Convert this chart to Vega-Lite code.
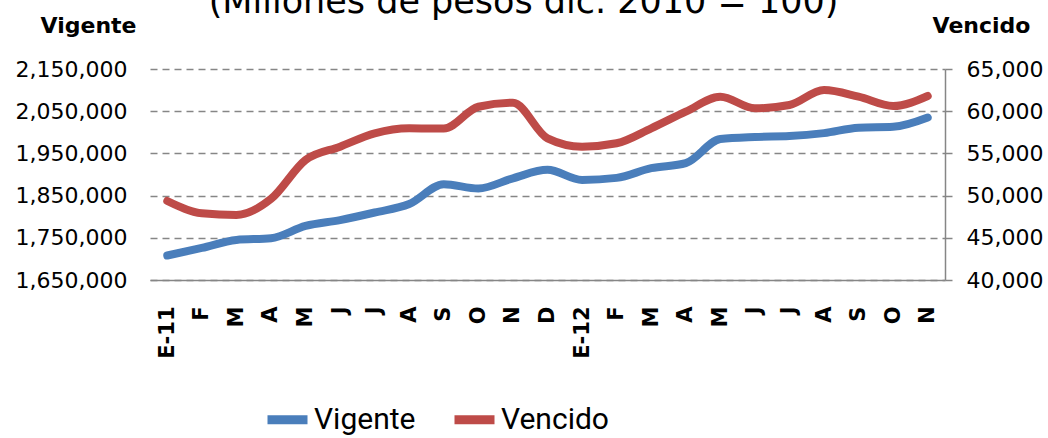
{
  "$schema": "https://vega.github.io/schema/vega-lite/v6.json",
  "width": 795,
  "height": 211,
  "autosize": {"type": "none"},
  "padding": {"left": 150, "top": 69, "right": 103, "bottom": 158},
  "background": "white",
  "title": {
    "text": "(Millones de pesos dic. 2010 = 100)",
    "font": "DejaVu Sans",
    "fontSize": 35,
    "fontWeight": "normal",
    "color": "black",
    "anchor": "middle",
    "frame": "group",
    "baseline": "alphabetic",
    "offset": 0,
    "dx": -24,
    "dy": 34
  },
  "data": {
    "values": [
      {"mes": "2011-01", "vigente": 1708000, "vencido": 49360},
      {"mes": "2011-02", "vigente": 1726000, "vencido": 47900},
      {"mes": "2011-03", "vigente": 1745000, "vencido": 47700},
      {"mes": "2011-04", "vigente": 1749000, "vencido": 49600},
      {"mes": "2011-05", "vigente": 1778000, "vencido": 54220},
      {"mes": "2011-06", "vigente": 1792000, "vencido": 55800},
      {"mes": "2011-07", "vigente": 1810000, "vencido": 57380},
      {"mes": "2011-08", "vigente": 1830000, "vencido": 57970},
      {"mes": "2011-09", "vigente": 1877000, "vencido": 57950},
      {"mes": "2011-10", "vigente": 1867000, "vencido": 60530},
      {"mes": "2011-11", "vigente": 1891000, "vencido": 61000},
      {"mes": "2011-12", "vigente": 1911000, "vencido": 56790},
      {"mes": "2012-01", "vigente": 1887000, "vencido": 55800},
      {"mes": "2012-02", "vigente": 1892000, "vencido": 56200},
      {"mes": "2012-03", "vigente": 1915000, "vencido": 57970},
      {"mes": "2012-04", "vigente": 1927000, "vencido": 59940},
      {"mes": "2012-05", "vigente": 1984000, "vencido": 61720},
      {"mes": "2012-06", "vigente": 1989000, "vencido": 60340},
      {"mes": "2012-07", "vigente": 1991000, "vencido": 60730},
      {"mes": "2012-08", "vigente": 1998000, "vencido": 62510},
      {"mes": "2012-09", "vigente": 2011000, "vencido": 61720},
      {"mes": "2012-10", "vigente": 2013000, "vencido": 60610},
      {"mes": "2012-11", "vigente": 2035000, "vencido": 61800}
    ]
  },
  "encoding": {
    "x": {
      "field": "mes",
      "type": "ordinal",
      "scale": {"type": "point", "padding": 0.5},
      "axis": {
        "title": null,
        "labelAngle": -90,
        "labelAlign": "right",
        "labelBaseline": "middle",
        "labelFont": "DejaVu Sans",
        "labelFontWeight": "bold",
        "labelFontSize": 21,
        "labelColor": "black",
        "labelPadding": 26,
        "ticks": false,
        "domainColor": "#868686",
        "domainWidth": 1.5,
        "grid": false,
        "labelExpr": "substring(datum.value,5,7)=='01' ? 'E-'+substring(datum.value,2,4) : ['E','F','M','A','M','J','J','A','S','O','N','D'][toNumber(substring(datum.value,5,7))-1]"
      }
    }
  },
  "layer": [
    {
      "mark": {"type": "line", "strokeWidth": 8, "interpolate": "monotone", "strokeCap": "round"},
      "encoding": {
        "y": {
          "field": "vigente",
          "type": "quantitative",
          "scale": {"domain": [1650000, 2150000], "nice": false, "zero": false},
          "axis": {
            "values": [1650000, 1750000, 1850000, 1950000, 2050000, 2150000],
            "format": ",d",
            "title": "Vigente",
            "titleAngle": 0,
            "titleFont": "DejaVu Sans",
            "titleFontSize": 22,
            "titleFontWeight": "bold",
            "titleColor": "black",
            "titleAlign": "center",
            "titleBaseline": "middle",
            "titleX": -62,
            "titleY": -44,
            "labelFont": "DejaVu Sans",
            "labelFontSize": 22,
            "labelColor": "black",
            "labelPadding": 23,
            "ticks": false,
            "domain": false,
            "grid": true,
            "gridColor": "#868686",
            "gridDash": [7, 5],
            "gridWidth": 1.5
          }
        },
        "color": {
          "datum": "Vigente",
          "type": "nominal",
          "scale": {"domain": ["Vigente", "Vencido"], "range": ["#4a7ebb", "#be4b48"]},
          "legend": {
            "title": null,
            "orient": "none",
            "direction": "horizontal",
            "legendX": 113,
            "legendY": 326,
            "symbolType": "stroke",
            "symbolSize": 1600,
            "symbolStrokeWidth": 9,
            "labelFont": "Roboto",
            "labelFontSize": 30,
            "labelColor": "black",
            "labelOffset": 2,
            "columnPadding": 20,
            "labelLimit": 300
          }
        }
      }
    },
    {
      "mark": {"type": "line", "strokeWidth": 8, "interpolate": "monotone", "strokeCap": "round"},
      "encoding": {
        "y": {
          "field": "vencido",
          "type": "quantitative",
          "scale": {"domain": [40000, 65000], "nice": false, "zero": false},
          "axis": {
            "orient": "right",
            "values": [40000, 45000, 50000, 55000, 60000, 65000],
            "format": ",d",
            "title": "Vencido",
            "titleAngle": 0,
            "titleFont": "DejaVu Sans",
            "titleFontSize": 22,
            "titleFontWeight": "bold",
            "titleColor": "black",
            "titleAlign": "center",
            "titleBaseline": "middle",
            "titleX": 36,
            "titleY": -44,
            "labelFont": "DejaVu Sans",
            "labelFontSize": 22,
            "labelColor": "black",
            "labelPadding": 14,
            "ticks": true,
            "tickSize": 7,
            "tickColor": "#868686",
            "tickWidth": 1.5,
            "domain": true,
            "domainColor": "#868686",
            "domainWidth": 1.5,
            "grid": false
          }
        },
        "color": {"datum": "Vencido", "type": "nominal"}
      }
    }
  ],
  "resolve": {"scale": {"y": "independent"}},
  "config": {"view": {"stroke": null}}
}
